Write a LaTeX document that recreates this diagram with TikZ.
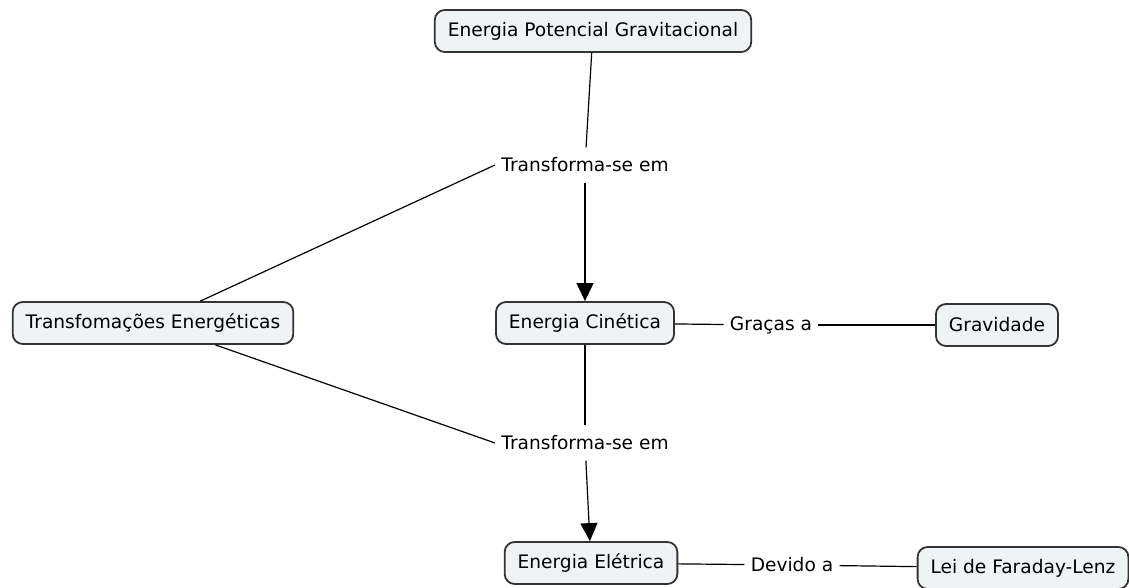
\documentclass[tikz,border=0pt]{standalone}
\usepackage{fontspec}
\setmainfont{DejaVu Sans}
\usetikzlibrary{positioning,arrows.meta}

\definecolor{conceptfill}{HTML}{EEF3F6}
\definecolor{conceptline}{HTML}{333333}

\begin{document}
\begin{tikzpicture}[
  x=0.5pt, y=-0.5pt,
  concept/.style={
    rectangle, rounded corners=5pt, minimum height=21pt, inner xsep=6.5pt,
    draw=conceptline, line width=0.9pt, fill=conceptfill, font=\fontsize{9.3}{11}\selectfont
  },
  linkword/.style={
    rectangle, fill=white, inner xsep=3pt, inner ysep=5pt, font=\fontsize{9.3}{11}\selectfont
  },
  link/.style={line width=0.6pt, black},
  arrow/.style={-{Triangle[length=9pt,width=8.5pt]}, line width=0.6pt, black}
]
\useasboundingbox (0,0) rectangle (1129,588);

% === Concepts ===
\node[concept] (epg) at (593,31) {Energia Potencial Gravitacional};
\node[concept] (trans) at (153,323) {Transfomações Energéticas};
\node[concept] (cin) at (585,323) {Energia Cinética};
\node[concept] (grav) at (997,325) {Gravidade};
\node[concept] (elet) at (591,563) {Energia Elétrica};
\node[concept] (lei) at (1023,568) {Lei de Faraday-Lenz};

% === Linking phrases ===
\node[linkword] (tse1) at (585,165) {Transforma-se em};
\node[linkword] (gracas) at (771,325) {Graças a};
\node[linkword] (tse2) at (585,443) {Transforma-se em};
\node[linkword] (devido) at (792,565) {Devido a};

% === Upper transformation ===
\draw[link] (epg) -- (tse1);
\draw[arrow] (tse1) -- (cin);
\draw[link] (trans) -- (tse1.west);

% === Lower transformation ===
\draw[link] (cin) -- (tse2);
\draw[arrow] (tse2) -- (elet);
\draw[link] (trans) -- (tse2.west);

% === Side links ===
\draw[link] (cin) -- (gracas);
\draw[link] (gracas) -- (grav);
\draw[link] (elet) -- (devido);
\draw[link] (devido) -- (lei);

\end{tikzpicture}
\end{document}
